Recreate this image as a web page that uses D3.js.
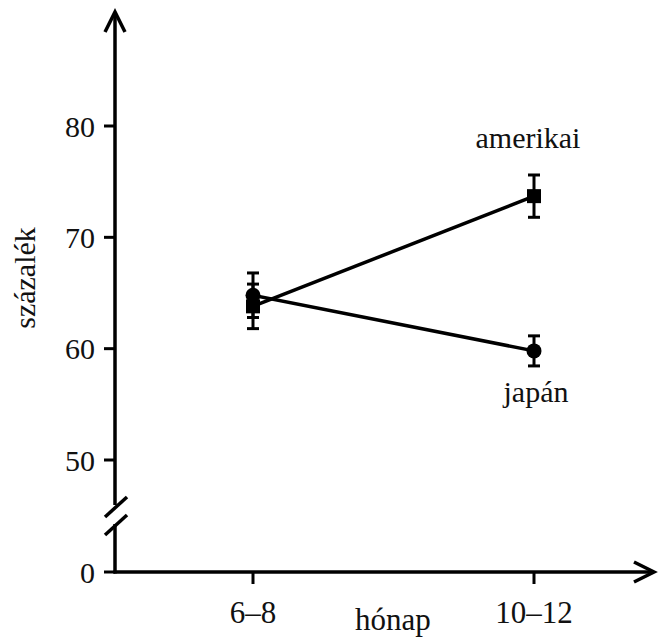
<!DOCTYPE html>
<html>
<head>
<meta charset="utf-8">
<script src="https://cdn.jsdelivr.net/npm/d3@7"></script>
<style>
html,body{margin:0;padding:0;background:#fff;}
</style>
</head>
<body>
<div id="chart"></div>
<script>
// ---- data ----
const categories = ["6–8", "10–12"];
const seriesNames = ["amerikai", "japán"];
const amerikaiValues = [63.8, 73.7];
const amerikaiErrors = [2.0, 1.9];
const japanValues = [64.8, 59.8];
const japanErrors = [2.0, 1.35];
const yTickValues = [0, 50, 60, 70, 80];
const xAxisTitle = "hónap";
const yAxisTitle = "százalék";

const W = 658, H = 638;
const FONT = "'Liberation Serif', 'Times New Roman', Times, 'DejaVu Serif', serif";
const svg = d3.select("#chart").append("svg").attr("width", W).attr("height", H)
  .attr("font-family", FONT);

const axisX0 = 115, axisY0 = 572;
const x = d3.scalePoint().domain(categories).range([253, 534]);
// broken axis: 0 sits below 50 with a gap
const y = d3.scaleLinear().domain([0, 50, 80]).range([axisY0, 460, 126]);

const ink = "#000";
const g = svg.append("g");
function txt(sel) { return sel.attr("font-family", FONT).attr("fill", "#111"); }

// Y axis line with break
g.append("line").attr("x1", axisX0).attr("x2", axisX0).attr("y1", 12).attr("y2", 505)
  .attr("stroke", ink).attr("stroke-width", 3.5);
g.append("line").attr("x1", axisX0).attr("x2", axisX0).attr("y1", 524).attr("y2", axisY0 + 1.5)
  .attr("stroke", ink).attr("stroke-width", 3.5);
// break slashes
[0, 18].forEach(dy => {
  g.append("line").attr("x1", axisX0 - 10).attr("y1", 517 + dy).attr("x2", axisX0 + 12).attr("y2", 497 + dy)
    .attr("stroke", ink).attr("stroke-width", 3.5);
});
// y arrow
g.append("path").attr("d", `M${axisX0 - 10},32 L${axisX0},12 L${axisX0 + 10},32`)
  .attr("fill", "none").attr("stroke", ink).attr("stroke-width", 3.5);

// X axis line with arrow
g.append("line").attr("x1", axisX0 - 1.5).attr("x2", 654).attr("y1", axisY0).attr("y2", axisY0)
  .attr("stroke", ink).attr("stroke-width", 3.5);
g.append("path").attr("d", `M634,${axisY0 - 10} L654,${axisY0} L634,${axisY0 + 10}`)
  .attr("fill", "none").attr("stroke", ink).attr("stroke-width", 3.5);

// Y ticks
yTickValues.forEach(v => {
  const yy = y(v);
  g.append("line").attr("x1", axisX0 - 11).attr("x2", axisX0).attr("y1", yy).attr("y2", yy)
    .attr("stroke", ink).attr("stroke-width", 3);
  txt(g.append("text")).attr("x", axisX0 - 20).attr("y", yy).attr("dy", "0.35em")
    .attr("text-anchor", "end").attr("font-size", 30).text(v);
});

// X ticks
categories.forEach(c => {
  const xx = x(c);
  g.append("line").attr("x1", xx).attr("x2", xx).attr("y1", axisY0).attr("y2", axisY0 + 12)
    .attr("stroke", ink).attr("stroke-width", 3);
  txt(g.append("text")).attr("x", xx).attr("y", 623).attr("text-anchor", "middle")
    .attr("font-size", 31).text(c);
});

// axis titles
txt(g.append("text")).attr("x", 393).attr("y", 630).attr("text-anchor", "middle")
  .attr("font-size", 31).text(xAxisTitle);
txt(g.append("text")).attr("transform", "translate(35,278) rotate(-90)").attr("text-anchor", "middle")
  .attr("font-size", 30).text(yAxisTitle);

// series
const series = [
  {name: seriesNames[0], values: amerikaiValues, errors: amerikaiErrors, shape: "square"},
  {name: seriesNames[1], values: japanValues, errors: japanErrors, shape: "circle"}
];

const line = d3.line().x((d, i) => x(categories[i])).y(d => y(d));
series.forEach(s => {
  g.append("path").datum(s.values).attr("d", line)
    .attr("fill", "none").attr("stroke", ink).attr("stroke-width", 3.5);
});
series.forEach(s => {
  s.values.forEach((v, i) => {
    const xx = x(categories[i]);
    const top = y(v + s.errors[i]), bot = y(v - s.errors[i]);
    g.append("line").attr("x1", xx).attr("x2", xx).attr("y1", top).attr("y2", bot)
      .attr("stroke", ink).attr("stroke-width", 3);
    [top, bot].forEach(yy => g.append("line").attr("x1", xx - 6).attr("x2", xx + 6)
      .attr("y1", yy).attr("y2", yy).attr("stroke", ink).attr("stroke-width", 3));
  });
});
series.forEach(s => {
  s.values.forEach((v, i) => {
    const xx = x(categories[i]), yy = y(v);
    if (s.shape === "square") {
      g.append("rect").attr("x", xx - 7).attr("y", yy - 7).attr("width", 14).attr("height", 14).attr("fill", ink);
    } else {
      g.append("circle").attr("cx", xx).attr("cy", yy).attr("r", 7.5).attr("fill", ink);
    }
  });
});

// series labels
txt(g.append("text")).attr("x", x(categories[1]) - 6).attr("y", 148).attr("text-anchor", "middle")
  .attr("font-size", 30).text(seriesNames[0]);
txt(g.append("text")).attr("x", x(categories[1]) + 2).attr("y", 402).attr("text-anchor", "middle")
  .attr("font-size", 30).text(seriesNames[1]);
</script>
</body>
</html>
